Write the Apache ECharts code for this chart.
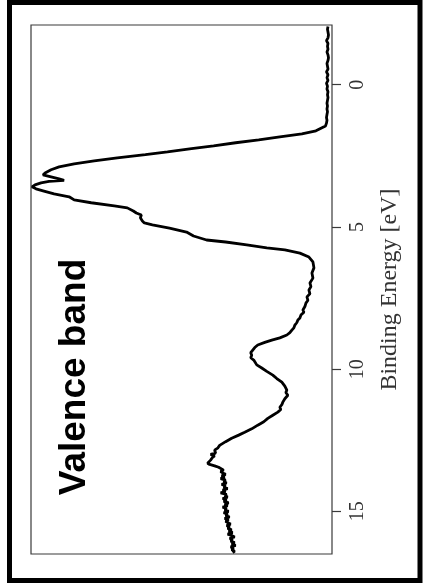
<!DOCTYPE html>
<html>
<head>
<meta charset="utf-8">
<title>Valence band</title>
<script src="https://cdn.jsdelivr.net/npm/echarts@6/dist/echarts.min.js"></script>
<style>
  html, body { margin: 0; padding: 0; background: #ffffff; }
  #chart { width: 423px; height: 585px; }
</style>
</head>
<body>
<div id="chart"></div>
<script>
// Valence band photoemission spectrum: binding energy (eV) vs. intensity (arb. units)
var bindingEnergy = [
  -2.05, -1.95, -1.85, -1.75, -1.65, -1.55, -1.45, -1.35, -1.25, -1.15,
  -1.05, -0.95, -0.85, -0.75, -0.65, -0.55, -0.45, -0.35, -0.25, -0.15,
  -0.05, 0.05, 0.15, 0.25, 0.35, 0.45, 0.55, 0.65, 0.75, 0.85,
  0.95, 1.05, 1.15, 1.25, 1.35, 1.45, 1.51, 1.62, 1.73, 1.83,
  1.94, 2.04, 2.15, 2.25, 2.36, 2.46, 2.57, 2.68, 2.78, 2.89,
  2.99, 3.10, 3.17, 3.24, 3.31, 3.36, 3.40, 3.45, 3.52, 3.59,
  3.66, 3.73, 3.84, 3.94, 4.05, 4.15, 4.26, 4.33, 4.44, 4.51,
  4.58, 4.68, 4.79, 4.86, 4.93, 5.04, 5.18, 5.32, 5.46, 5.53,
  5.63, 5.74, 5.81, 5.92, 6.06, 6.23, 6.44, 6.62, 6.80, 6.97,
  7.10, 7.22, 7.35, 7.46, 7.58, 7.68, 7.80, 7.92, 8.00, 8.10,
  8.20, 8.27, 8.36, 8.45, 8.55, 8.63, 8.72, 8.80, 8.90, 8.98,
  9.06, 9.15, 9.24, 9.33, 9.42, 9.51, 9.60, 9.68, 9.75, 9.85,
  9.96, 10.08, 10.21, 10.33, 10.46, 10.60, 10.74, 10.82, 10.92, 11.04,
  11.16, 11.25, 11.34, 11.42, 11.51, 11.62, 11.73, 11.85, 11.97, 12.10,
  12.22, 12.32, 12.43, 12.55, 12.68, 12.78, 12.85, 12.95, 13.00, 13.05,
  13.10, 13.15, 13.20, 13.25, 13.31, 13.35, 13.40, 13.45, 13.50, 13.55,
  13.60, 13.65, 13.70, 13.75, 13.80, 13.85, 13.90, 13.95, 14.00, 14.05,
  14.10, 14.15, 14.20, 14.25, 14.30, 14.35, 14.40, 14.45, 14.50, 14.55,
  14.60, 14.65, 14.70, 14.75, 14.80, 14.85, 14.90, 14.95, 15.00, 15.05,
  15.10, 15.15, 15.20, 15.25, 15.30, 15.35, 15.40, 15.45, 15.50, 15.55,
  15.60, 15.65, 15.70, 15.75, 15.80, 15.85, 15.90, 15.95, 16.00, 16.05,
  16.10, 16.15, 16.20, 16.25, 16.30, 16.35, 16.40, 16.45
];
var intensity = [
  4, 4.5, 4, 3.5, 4, 5.5, 4, 4.5, 4, 5,
  4, 3.5, 4, 5, 4.5, 4, 5.5, 4, 5, 4,
  5.5, 4.5, 5, 4, 4.5, 4, 4.5, 5, 4.5, 5,
  4.5, 5, 5.5, 5, 5.5, 6.5, 8, 16, 30, 52,
  73, 96, 118, 140, 164, 186, 214, 237, 257, 272,
  280, 286, 288, 280, 272, 267, 282, 290, 296, 299,
  295, 288, 277, 262, 257, 240, 217, 204, 198, 195,
  190, 191, 189, 187, 179, 162, 145, 138, 125, 106,
  85, 65, 47, 32, 23, 19, 18, 20, 19, 22,
  21, 23, 22, 25, 24, 26, 27, 29, 28, 31,
  32, 34, 35, 37, 38, 40, 42, 45, 52, 60,
  67, 74, 77, 79, 81, 80, 81, 78, 79, 75,
  70, 65, 59, 55, 50, 47, 45, 46, 44, 47,
  49, 50, 52, 51, 54, 59, 64, 68, 74, 80,
  87, 93, 100, 106, 112, 114, 117, 116, 121, 117,
  119, 118, 121, 120, 124, 122, 117, 113, 112, 108,
  111, 109, 106, 110, 107, 111, 106, 108, 105, 110,
  106, 108, 104, 109, 106, 111, 105, 107, 104, 109,
  105, 108, 103, 107, 104, 109, 105, 107, 103, 108,
  104, 106, 102, 107, 103, 106, 104, 101, 105, 102,
  104, 100, 103, 99, 104, 100, 97, 102, 99, 101,
  97, 100, 96, 101, 98, 100, 97, 99
];
var energyTicks = [0, 5, 10, 15];
var axisTitle = 'Binding Energy [eV]';
var panelLabel = 'Valence band';

var points = bindingEnergy.map(function (e, i) { return [intensity[i], e]; });

var chart = echarts.init(document.getElementById('chart'), null, { renderer: 'canvas' });

chart.setOption({
  animation: false,
  backgroundColor: '#ffffff',
  grid: {
    left: 31, right: 91, top: 25, bottom: 31,
    show: true,
    borderColor: '#3a3a3a',
    borderWidth: 1.2,
    backgroundColor: 'transparent'
  },
  xAxis: {
    type: 'value',
    min: 0,
    max: 300,
    inverse: true,
    show: false
  },
  yAxis: {
    type: 'value',
    position: 'right',
    inverse: true,
    min: -2.1,
    max: 16.5,
    name: axisTitle,
    nameLocation: 'middle',
    nameRotate: 90,
    nameGap: 46,
    nameTextStyle: {
      fontFamily: 'Liberation Serif',
      fontSize: 24,
      color: '#333333'
    },
    axisLine: { show: false },
    splitLine: { show: false },
    axisTick: {
      show: true,
      length: 9,
      customValues: energyTicks,
      lineStyle: { color: '#3a3a3a', width: 1.2 }
    },
    axisLabel: {
      show: true,
      rotate: 90,
      margin: 16,
      customValues: energyTicks,
      fontFamily: 'Liberation Serif',
      fontSize: 20,
      color: '#333333'
    }
  },
  series: [{
    type: 'line',
    data: points,
    showSymbol: false,
    symbol: 'none',
    smooth: false,
    lineStyle: { color: '#000000', width: 2.8 },
    z: 3
  }],
  graphic: [
    {
      type: 'rect',
      shape: { x: 9.5, y: 2.5, width: 410.5, height: 578 },
      style: { fill: 'none', stroke: '#000000', lineWidth: 5 },
      silent: true,
      z: 10
    },
    {
      type: 'text',
      x: 75,
      y: 377,
      rotation: Math.PI / 2,
      style: {
        text: panelLabel,
        fontFamily: 'Liberation Sans',
        fontWeight: 'bold',
        fontSize: 37,
        fill: '#000000',
        textAlign: 'center',
        textVerticalAlign: 'middle'
      },
      z: 10
    }
  ]
});
</script>
</body>
</html>
